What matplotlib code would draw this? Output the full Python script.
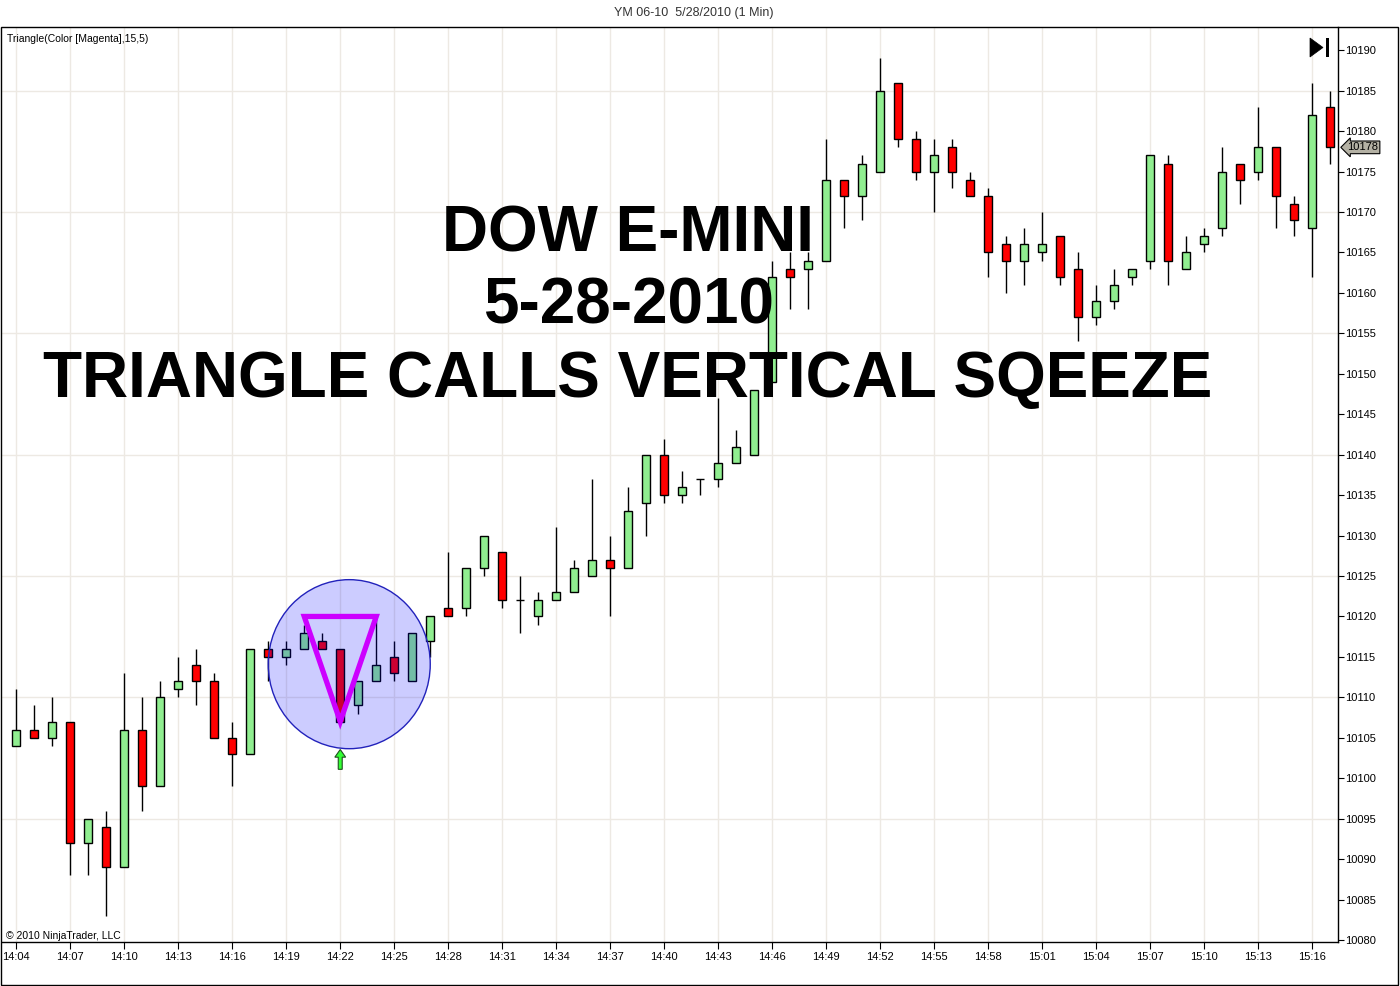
import matplotlib
matplotlib.use("Agg")
import matplotlib.pyplot as plt
import numpy as np
from matplotlib.patches import Ellipse, Polygon, Rectangle, FancyArrow

plt.rcParams['font.family'] = ['Liberation Sans', 'DejaVu Sans']

# ---------------- data (1-min bars, 14:04 .. 15:17) ----------------
opens = [10104, 10106, 10105, 10107, 10092, 10094, 10089, 10106, 10099, 10111,
         10114, 10112, 10105, 10103, 10116, 10115, 10116, 10117, 10116, 10109,
         10112, 10115, 10112, 10117, 10121, 10121, 10126, 10128, 10122, 10120,
         10122, 10123, 10125, 10127, 10126, 10134, 10140, 10135, 10137, 10137,
         10139, 10140, 10149, 10163, 10163, 10164, 10174, 10172, 10175, 10186,
         10179, 10175, 10178, 10174, 10172, 10166, 10164, 10165, 10167, 10163,
         10157, 10159, 10162, 10164, 10176, 10163, 10166, 10168, 10176, 10175,
         10178, 10171, 10168, 10183]
highs = [10111, 10109, 10110, 10107, 10095, 10096, 10113, 10110, 10112, 10115,
         10116, 10113, 10107, 10116, 10117, 10117, 10119, 10118, 10116, 10112,
         10120, 10117, 10118, 10120, 10128, 10126, 10130, 10128, 10125, 10123,
         10131, 10127, 10137, 10130, 10136, 10140, 10142, 10138, 10137, 10147,
         10143, 10148, 10164, 10165, 10165, 10179, 10174, 10177, 10189, 10186,
         10180, 10179, 10179, 10175, 10173, 10167, 10168, 10170, 10167, 10165,
         10161, 10163, 10163, 10177, 10177, 10167, 10168, 10178, 10176, 10183,
         10178, 10172, 10186, 10185]
lows = [10104, 10105, 10104, 10088, 10088, 10083, 10089, 10096, 10099, 10110,
        10109, 10105, 10099, 10103, 10112, 10114, 10116, 10116, 10107, 10108,
        10112, 10112, 10112, 10115, 10120, 10120, 10125, 10121, 10118, 10119,
        10122, 10123, 10125, 10120, 10126, 10130, 10134, 10134, 10135, 10136,
        10139, 10140, 10149, 10158, 10158, 10164, 10168, 10169, 10175, 10178,
        10174, 10170, 10173, 10172, 10162, 10160, 10161, 10164, 10161, 10154,
        10156, 10158, 10161, 10163, 10161, 10163, 10165, 10167, 10171, 10174,
        10168, 10167, 10162, 10176]
closes = [10106, 10105, 10107, 10092, 10095, 10089, 10106, 10099, 10110, 10112,
          10112, 10105, 10103, 10116, 10115, 10116, 10118, 10116, 10107, 10112,
          10114, 10113, 10118, 10120, 10120, 10126, 10130, 10122, 10122, 10122,
          10123, 10126, 10127, 10126, 10133, 10140, 10135, 10136, 10137, 10139,
          10141, 10148, 10162, 10162, 10164, 10174, 10172, 10176, 10185, 10179,
          10175, 10177, 10175, 10172, 10165, 10164, 10166, 10166, 10162, 10157,
          10159, 10161, 10163, 10177, 10164, 10165, 10167, 10175, 10174, 10178,
          10172, 10169, 10182, 10178]

time_labels = ["14:04", "14:07", "14:10", "14:13", "14:16", "14:19", "14:22",
               "14:25", "14:28", "14:31", "14:34", "14:37", "14:40", "14:43",
               "14:46", "14:49", "14:52", "14:55", "14:58", "15:01", "15:04",
               "15:07", "15:10", "15:13", "15:16"]
price_ticks = [10080, 10085, 10090, 10095, 10100, 10105, 10110, 10115, 10120,
               10125, 10130, 10135, 10140, 10145, 10150, 10155, 10160, 10165,
               10170, 10175, 10180, 10185, 10190]

# triangle pattern (bar index, price) and signal bar
triangle_bars = [16, 20, 18]
triangle_prices = [10120, 10120, 10107]
signal_bar = 18

# ---------------- figure ----------------
W, H = 1400, 986
fig = plt.figure(figsize=(W / 100, H / 100), dpi=100)
fig.patch.set_facecolor('white')

ax = fig.add_axes([2 / W, 1 - 942 / H, (1337.5 - 2) / W, (942 - 27) / H])
ax.set_facecolor('white')

n = len(opens)
x = np.arange(n)
o = np.array(opens); c = np.array(closes); h = np.array(highs); l = np.array(lows)

ax.set_xlim(-0.79, 73.4)
ax.set_ylim(10079.75, 10192.88)

# grid
grid_col = '#ede9e3'
for xi in range(0, n, 3):
    ax.axvline(xi, color=grid_col, lw=1.0, zorder=0)
for p in range(10095, 10191, 15):
    ax.axhline(p, color=grid_col, lw=1.0, zorder=0)

# wicks
ax.vlines(x, l, h, color='black', lw=1.0, zorder=2)
# bodies
colors = np.where(c > o, '#90ee90', np.where(c < o, '#ff0000', '#90ee90'))
ax.bar(x, np.abs(c - o), bottom=np.minimum(o, c), width=0.45,
       color=colors, edgecolor='black', linewidth=1.0, zorder=3)

# triangle
tri = Polygon(list(zip(triangle_bars, triangle_prices)), closed=True, fill=False,
              edgecolor='#ff00ff', lw=3.8, joinstyle='miter', zorder=4)
ax.add_patch(tri)

# circle
cx = (min(triangle_bars) + max(triangle_bars)) / 2 + 0.5
cy = (max(triangle_prices) + min(triangle_prices)) / 2 + 0.6
ell = Ellipse((cx, cy), width=9.0, height=20.9, facecolor=(0.0, 0.0, 1.0, 0.2),
              edgecolor='#2222bb', lw=1.0, zorder=5)
ax.add_patch(ell)

# signal arrow
arr_base = lows[signal_bar] - 5.9
ax.add_patch(FancyArrow(signal_bar, arr_base, 0, 1.5, width=0.22, head_width=0.6,
                        head_length=0.95, length_includes_head=False,
                        facecolor='#33ff33', edgecolor='#205020', lw=0.8, zorder=6))

# axes styling
for s in ['left', 'top']:
    ax.spines[s].set_visible(False)
for s in ['right', 'bottom']:
    ax.spines[s].set_color('black')
    ax.spines[s].set_linewidth(1.0)

ax.yaxis.tick_right()
ax.set_yticks(price_ticks)
ax.set_yticklabels([str(p) for p in price_ticks])
ax.tick_params(axis='y', direction='out', length=4, width=0.8, labelsize=8, pad=1.5,
               colors='black')
ax.set_xticks(list(range(0, n, 3))[:len(time_labels)])
ax.set_xticklabels(time_labels)
ax.tick_params(axis='x', direction='out', length=5, width=0.8, labelsize=8, pad=2,
               colors='black')

# last price marker
ax.text(1.0075, closes[-1], str(closes[-1]), transform=ax.get_yaxis_transform(),
        fontsize=8, va='center', ha='left',
        bbox=dict(boxstyle='larrow,pad=0.12', fc='#b4b1a4', ec='black', lw=0.8),
        zorder=10, clip_on=False)

# panel border
fig.add_artist(Rectangle((1 / W, 1 - 985 / H), (1398 - 1) / W, (985 - 27) / H,
                         transform=fig.transFigure, fill=False, ec='black', lw=1.0))

# title
fig.text(694 / W, 1 - 13 / H, "YM 06-10  5/28/2010 (1 Min)", ha='center', va='center',
         fontsize=9, color='#333333')
fig.text(7 / W, 1 - 39 / H, "Triangle(Color [Magenta],15,5)", ha='left', va='center',
         fontsize=7.5, color='black')
fig.text(6 / W, 1 - 936 / H, "\u00a9 2010 NinjaTrader, LLC", ha='left', va='center',
         fontsize=7.5, color='black')

# play-to-end icon
fig.add_artist(Polygon([(1310 / W, 1 - 38 / H), (1310 / W, 1 - 57 / H), (1323 / W, 1 - 47.5 / H)],
                       closed=True, transform=fig.transFigure, fc='black', ec='black', lw=0.5))
fig.add_artist(Rectangle((1325.5 / W, 1 - 57 / H), 3.5 / W, 19 / H,
                         transform=fig.transFigure, fc='black', ec='none'))

# big annotation text
big = dict(ha='center', va='baseline', fontsize=46, fontweight='bold', color='black')
fig.text(628 / W, 1 - 251 / H, "DOW E-MINI", **big)
fig.text(629 / W, 1 - 324 / H, "5-28-2010", **big)
fig.text(628 / W, 1 - 397 / H, "TRIANGLE CALLS VERTICAL SQEEZE", **big)

fig.savefig("out.png", dpi=100)
